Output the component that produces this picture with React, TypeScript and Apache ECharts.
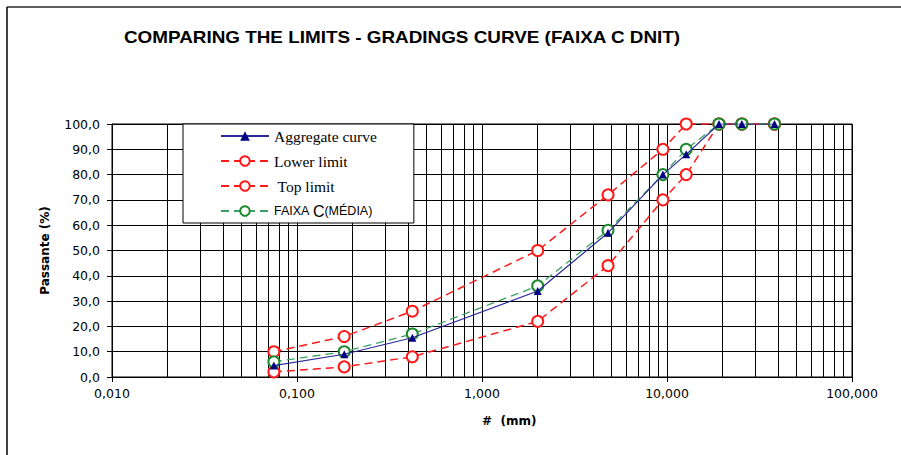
import React, { useEffect, useRef } from "react";
import * as echarts from "echarts";

// Sieve openings (mm)
const SIEVES_MM = [0.075, 0.18, 0.42, 2.0, 4.8, 9.5, 12.7, 19.1, 25.4, 38.1];
// Passing (%)
const AGGREGATE = [4.5, 9, 15.5, 34, 57, 80, 88, 100, 100, 100];
const LOWER_LIMIT = [2, 4, 8, 22, 44, 70, 80, 100, 100, 100];
const TOP_LIMIT = [10, 16, 26, 50, 72, 90, 100, 100, 100, 100];
const FAIXA_MEDIA = [6, 10, 17, 36, 58, 80, 90, 100, 100, 100];

const SERIES_NAMES = ["Aggregate curve", "Lower limit", "Top limit", "FAIXA C (MÉDIA)"];
const TITLE = "COMPARING THE LIMITS - GRADINGS CURVE (FAIXA C DNIT)";
const Y_NAME = "Passante (%)";
const X_NAME = "#  (mm)";

// log-axis decades and minor grid multipliers
const X_DECADES = [0.01, 0.1, 1, 10];
const MINOR_MULT = [2, 3, 4, 5, 6, 7, 8, 9];

const pairs = (ys: number[]) => SIEVES_MM.map((x, i) => [x, ys[i]]);

export default function App() {
  const ref = useRef<HTMLDivElement>(null);
  useEffect(() => {
    if (!ref.current) return;
    const chart = echarts.init(ref.current, undefined, { renderer: "svg" });
    const minorLines: number[] = [];
    X_DECADES.forEach((d) => MINOR_MULT.forEach((m) => minorLines.push(+(d * m).toPrecision(3))));

    const redLine = { color: "#ff1a1a", width: 1.5, type: [8, 5] as any };
    chart.setOption({
      animation: false,
      backgroundColor: "#fff",
      graphic: [
        {
          type: "line",
          shape: { x1: 7, y1: 7, x2: 901, y2: 7 },
          style: { stroke: "#5f5f5f", lineWidth: 2 },
          silent: true,
        },
        {
          type: "line",
          shape: { x1: 7, y1: 7, x2: 7, y2: 455 },
          style: { stroke: "#000", lineWidth: 1.5 },
          silent: true,
        },
        {
          type: "text",
          x: 124,
          y: 38,
          scaleX: 1.18,
          style: {
            text: TITLE,
            font: "bold 16px 'Liberation Sans', Arial, sans-serif",
            fill: "#000",
            verticalAlign: "middle",
            align: "left",
          },
        },
      ],
      grid: {
        left: 112,
        right: 49,
        top: 124,
        bottom: 78,
        show: true,
        backgroundColor: "#fff",
        borderColor: "#000",
        borderWidth: 1,
      },
      legend: {
        orient: "vertical",
        left: 183,
        top: 124,
        backgroundColor: "#fff",
        borderColor: "#000",
        borderWidth: 1,
        borderRadius: 0,
        padding: [3, 37, 3, 37],
        itemWidth: 48,
        itemHeight: 12,
        itemGap: 7,
        selectedMode: false,
        data: SERIES_NAMES,
        textStyle: {
          fontFamily: "'Liberation Serif', 'Times New Roman', serif",
          fontSize: 15.5,
          color: "#000",
          lineHeight: 18,
          rich: {
            s: { fontFamily: "'Liberation Sans', Arial, sans-serif", fontSize: 12.5, color: "#000", lineHeight: 18 },
            c: { fontFamily: "'Liberation Sans', Arial, sans-serif", fontSize: 16, color: "#000", lineHeight: 18 },
          },
        },
        formatter: (name: string) => {
          if (name === SERIES_NAMES[3]) return "{s|FAIXA }{c|C}{s|(MÉDIA)}";
          if (name === SERIES_NAMES[2]) return " " + name;
          return name;
        },
      },
      xAxis: {
        type: "log",
        logBase: 10,
        min: 0.01,
        max: 100,
        name: X_NAME,
        nameLocation: "middle",
        nameGap: 38,
        nameTextStyle: {
          fontFamily: "'DejaVu Sans', sans-serif",
          fontWeight: "bold",
          fontSize: 12,
          color: "#000",
          align: "left",
        },
        axisLine: { show: true, lineStyle: { color: "#000", width: 1 } },
        axisTick: { show: true, length: 5, lineStyle: { color: "#000", width: 1 } },
        splitLine: { show: true, lineStyle: { color: "#000", width: 1 } },
        axisLabel: {
          margin: 10,
          fontFamily: "'DejaVu Sans', sans-serif",
          fontSize: 12.5,
          color: "#000",
          formatter: (v: number) => v.toFixed(3).replace(".", ","),
        },
      },
      yAxis: {
        type: "value",
        min: 0,
        max: 100,
        interval: 10,
        name: Y_NAME,
        nameLocation: "middle",
        nameGap: 61,
        nameTextStyle: {
          fontFamily: "'DejaVu Sans', sans-serif",
          fontWeight: "bold",
          fontSize: 12,
          color: "#000",
        },
        axisLine: { show: true, lineStyle: { color: "#000", width: 1 } },
        axisTick: { show: true, length: 5, lineStyle: { color: "#000", width: 1 } },
        splitLine: { show: true, lineStyle: { color: "#000", width: 1 } },
        axisLabel: {
          margin: 12,
          fontFamily: "'DejaVu Sans', sans-serif",
          fontSize: 12.5,
          color: "#000",
          formatter: (v: number) => v.toFixed(1).replace(".", ","),
        },
      },
      series: [
        {
          name: "_minorGrid",
          type: "line",
          data: [],
          silent: true,
          z: 1,
          markLine: {
            silent: true,
            z: 1,
            symbol: ["none", "none"],
            label: { show: false },
            emphasis: { disabled: true },
            lineStyle: { color: "#000", width: 1, type: "solid" },
            data: minorLines.map((v) => ({ xAxis: v })),
          },
        },
        {
          name: SERIES_NAMES[1],
          type: "line",
          data: pairs(LOWER_LIMIT),
          symbol: "emptyCircle",
          symbolSize: 11,
          itemStyle: { color: "#ff1a1a", borderWidth: 1.3 },
          lineStyle: redLine,
          z: 3,
        },
        {
          name: SERIES_NAMES[2],
          type: "line",
          data: pairs(TOP_LIMIT),
          symbol: "emptyCircle",
          symbolSize: 11,
          itemStyle: { color: "#ff1a1a", borderWidth: 1.3 },
          lineStyle: redLine,
          z: 3,
        },
        {
          name: SERIES_NAMES[3],
          type: "line",
          data: pairs(FAIXA_MEDIA),
          symbol: "emptyCircle",
          symbolSize: 11,
          itemStyle: { color: "#1e8a2e", borderWidth: 1.3 },
          lineStyle: { color: "#3aa066", width: 1.3, type: [8, 5] as any },
          z: 4,
        },
        {
          name: SERIES_NAMES[0],
          type: "line",
          data: pairs(AGGREGATE),
          symbol: "triangle",
          symbolSize: 8,
          itemStyle: { color: "#000080" },
          lineStyle: { color: "#2a2a9a", width: 1.2 },
          z: 5,
        },
      ],
    });
    return () => chart.dispose();
  }, []);
  return (
    <div
      ref={ref}
      style={{ position: "absolute", left: 0, top: 0, width: 901, height: 455 }}
    />
  );
}
